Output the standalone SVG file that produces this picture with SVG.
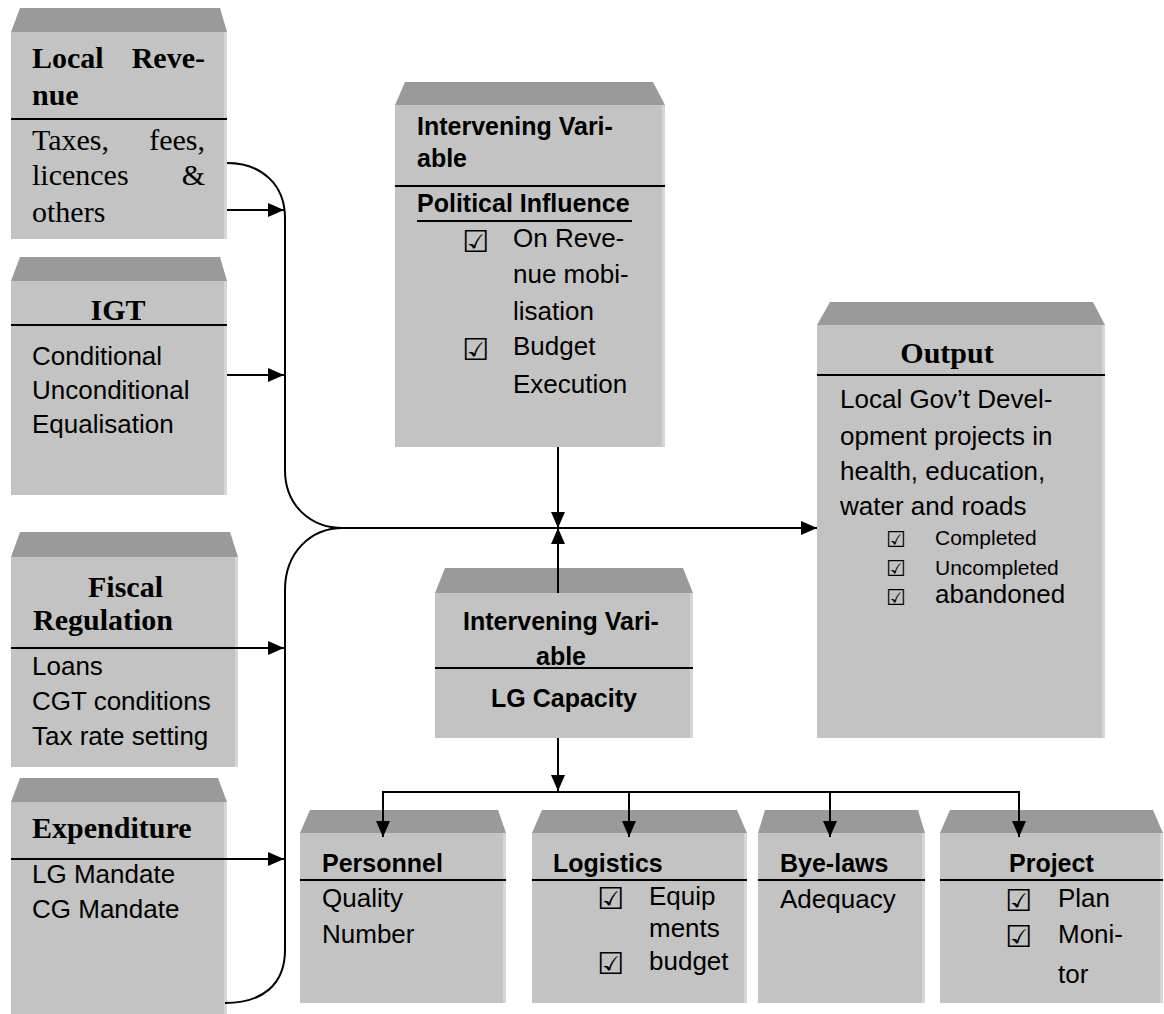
<svg xmlns="http://www.w3.org/2000/svg" width="1164" height="1014" viewBox="0 0 1164 1014">
<style>
.bevel{fill:#9a9a9a}
.body{fill:#c3c3c3}
.edge{fill:#d6d6d6}
.div{stroke:#000;stroke-width:2}
.conn{stroke:#000;stroke-width:2;fill:none}
.st{font-family:"Liberation Serif",serif;font-size:30px;font-weight:bold;fill:#000}
.sb{font-family:"Liberation Serif",serif;font-size:30px;fill:#000}
.t{font-family:"Liberation Sans",Arial,sans-serif;font-size:26px;fill:#000}
.tb{font-family:"Liberation Sans",Arial,sans-serif;font-size:25px;font-weight:bold;fill:#000}
.ck{font-family:"DejaVu Sans",sans-serif;font-size:30px;fill:#000}
.cks{font-family:"DejaVu Sans",sans-serif;font-size:22px;fill:#000}
.sm{font-family:"Liberation Sans",Arial,sans-serif;font-size:21px;fill:#000}
</style>
<defs>
<marker id="ah" markerUnits="userSpaceOnUse" markerWidth="17" markerHeight="15" refX="16" refY="7" orient="auto">
<path d="M0,0 L16,7 L0,14 z" fill="#000"/>
</marker>
</defs>

<g id="local-revenue">
<polygon class="bevel" points="20,8 220,8 227,32 11,32"/>
<rect class="body" x="11" y="32" width="216" height="207"/>
<rect class="edge" x="224" y="32" width="3" height="207"/>
<line class="div" x1="11" y1="119" x2="227" y2="119"/>
<text class="st" x="32" y="68">Local</text>
<text class="st" x="205" y="68" text-anchor="end">Reve-</text>
<text class="st" x="32" y="105">nue</text>
<text class="sb" x="32" y="150">Taxes,</text>
<text class="sb" x="205" y="150" text-anchor="end">fees,</text>
<text class="sb" x="32" y="185">licences</text>
<text class="sb" x="205" y="185" text-anchor="end">&amp;</text>
<text class="sb" x="32" y="222">others</text>
</g>

<g id="igt">
<polygon class="bevel" points="20,257 220,257 227,281 11,281"/>
<rect class="body" x="11" y="281" width="216" height="214"/>
<rect class="edge" x="224" y="281" width="3" height="214"/>
<line class="div" x1="11" y1="325" x2="227" y2="325"/>
<text class="st" x="118" y="320" text-anchor="middle">IGT</text>
<text class="t" x="32" y="365">Conditional</text>
<text class="t" x="32" y="399">Unconditional</text>
<text class="t" x="32" y="433">Equalisation</text>
</g>

<g id="fiscal-regulation">
<polygon class="bevel" points="20,532 230,532 238,557 11,557"/>
<rect class="body" x="11" y="557" width="227" height="210"/>
<rect class="edge" x="235" y="557" width="3" height="210"/>
<line class="div" x1="11" y1="648" x2="238" y2="648"/>
<text class="st" x="88" y="597">Fiscal</text>
<text class="st" x="33" y="630">Regulation</text>
<text class="t" x="32" y="675">Loans</text>
<text class="t" x="32" y="710">CGT conditions</text>
<text class="t" x="32" y="745">Tax rate setting</text>
</g>

<g id="expenditure">
<polygon class="bevel" points="20,778 218,778 227,802 11,802"/>
<rect class="body" x="11" y="802" width="216" height="212"/>
<rect class="edge" x="224" y="802" width="3" height="212"/>
<line class="div" x1="11" y1="859" x2="227" y2="859"/>
<text class="st" x="32" y="838">Expenditure</text>
<text class="t" x="32" y="883">LG Mandate</text>
<text class="t" x="32" y="918">CG Mandate</text>
</g>

<g id="political-influence">
<polygon class="bevel" points="405,82 653,82 665,105 395,105"/>
<rect class="body" x="395" y="105" width="270" height="342"/>
<rect class="edge" x="662" y="105" width="3" height="342"/>
<line class="div" x1="395" y1="186" x2="665" y2="186"/>
<text class="tb" x="417" y="135">Intervening Vari-</text>
<text class="tb" x="417" y="167">able</text>
<text class="tb" x="417" y="212">Political Influence</text>
<line class="div" x1="417" y1="221" x2="632" y2="221"/>
<text class="ck" x="462" y="252">☑</text>
<text class="t" x="513" y="247">On Reve-</text>
<text class="t" x="513" y="283">nue mobi-</text>
<text class="t" x="513" y="320">lisation</text>
<text class="ck" x="462" y="360">☑</text>
<text class="t" x="513" y="355">Budget</text>
<text class="t" x="513" y="393">Execution</text>
</g>

<g id="output">
<polygon class="bevel" points="830,302 1093,302 1105,325 817,325"/>
<rect class="body" x="817" y="325" width="288" height="413"/>
<rect class="edge" x="1102" y="325" width="3" height="413"/>
<line class="div" x1="817" y1="375" x2="1105" y2="375"/>
<text class="st" x="947" y="363" text-anchor="middle">Output</text>
<text class="t" x="840" y="408">Local Gov’t Devel-</text>
<text class="t" x="840" y="445">opment projects in</text>
<text class="t" x="840" y="480">health, education,</text>
<text class="t" x="840" y="515">water and roads</text>
<text class="cks" x="886" y="547">☑</text>
<text class="sm" x="935" y="545">Completed</text>
<text class="cks" x="886" y="576">☑</text>
<text class="sm" x="935" y="575">Uncompleted</text>
<text class="cks" x="886" y="605">☑</text>
<text class="t" x="935" y="603">abandoned</text>
</g>

<g id="lg-capacity">
<polygon class="bevel" points="445,568 683,568 693,593 435,593"/>
<rect class="body" x="435" y="593" width="258" height="145"/>
<rect class="edge" x="690" y="593" width="3" height="145"/>
<text class="tb" x="561" y="630" text-anchor="middle">Intervening Vari-</text>
<text class="tb" x="561" y="665" text-anchor="middle">able</text>
<line class="div" x1="435" y1="668" x2="693" y2="668"/>
<text class="tb" x="564" y="707" text-anchor="middle" font-size="26">LG Capacity</text>
</g>

<g id="personnel">
<polygon class="bevel" points="310,810 498,810 506,833 300,833"/>
<rect class="body" x="300" y="833" width="206" height="170"/>
<rect class="edge" x="503" y="833" width="3" height="170"/>
<line class="div" x1="300" y1="880" x2="506" y2="880"/>
<text class="tb" x="322" y="872">Personnel</text>
<text class="t" x="322" y="907">Quality</text>
<text class="t" x="322" y="943">Number</text>
</g>

<g id="logistics">
<polygon class="bevel" points="542,810 737,810 747,833 532,833"/>
<rect class="body" x="532" y="833" width="215" height="170"/>
<rect class="edge" x="744" y="833" width="3" height="170"/>
<line class="div" x1="532" y1="880" x2="747" y2="880"/>
<text class="tb" x="553" y="872">Logistics</text>
<text class="ck" x="597" y="909">☑</text>
<text class="t" x="649" y="905">Equip</text>
<text class="t" x="649" y="937">ments</text>
<text class="ck" x="597" y="974">☑</text>
<text class="t" x="649" y="970">budget</text>
</g>

<g id="bye-laws">
<polygon class="bevel" points="765,810 918,810 925,833 758,833"/>
<rect class="body" x="758" y="833" width="167" height="170"/>
<rect class="edge" x="922" y="833" width="3" height="170"/>
<line class="div" x1="758" y1="880" x2="925" y2="880"/>
<text class="tb" x="780" y="872">Bye-laws</text>
<text class="t" x="780" y="908">Adequacy</text>
</g>

<g id="project">
<polygon class="bevel" points="950,810 1153,810 1163,833 940,833"/>
<rect class="body" x="940" y="833" width="223" height="170"/>
<rect class="edge" x="1160" y="833" width="3" height="170"/>
<line class="div" x1="940" y1="880" x2="1163" y2="880"/>
<text class="tb" x="1009" y="872">Project</text>
<text class="ck" x="1005" y="911">☑</text>
<text class="t" x="1058" y="907">Plan</text>
<text class="ck" x="1005" y="947">☑</text>
<text class="t" x="1058" y="943">Moni-</text>
<text class="t" x="1058" y="983">tor</text>
</g>

<g id="connectors">
<path class="conn" d="M227,163 C262,163 285,185 285,218 L285,470 C285,505 310,528 343,528"/>
<path class="conn" d="M343,528 C310,528 285,553 285,590 L285,950 C285,985 262,1003 225,1003"/>
<line class="conn" x1="227" y1="210" x2="284" y2="210" marker-end="url(#ah)"/>
<line class="conn" x1="227" y1="375" x2="284" y2="375" marker-end="url(#ah)"/>
<line class="conn" x1="238" y1="648" x2="284" y2="648" marker-end="url(#ah)"/>
<line class="conn" x1="227" y1="859" x2="284" y2="859" marker-end="url(#ah)"/>
<line class="conn" x1="343" y1="528" x2="817" y2="528" marker-end="url(#ah)"/>
<line class="conn" x1="558" y1="447" x2="558" y2="528" marker-end="url(#ah)"/>
<line class="conn" x1="558" y1="593" x2="558" y2="528" marker-end="url(#ah)"/>
<line class="conn" x1="558" y1="738" x2="558" y2="791" marker-end="url(#ah)"/>
<line class="conn" x1="383" y1="792" x2="1020" y2="792"/>
<line class="conn" x1="383" y1="791" x2="383" y2="837" marker-end="url(#ah)"/>
<line class="conn" x1="629" y1="792" x2="629" y2="837" marker-end="url(#ah)"/>
<line class="conn" x1="830" y1="792" x2="830" y2="837" marker-end="url(#ah)"/>
<line class="conn" x1="1019" y1="791" x2="1019" y2="837" marker-end="url(#ah)"/>
</g>
</svg>
